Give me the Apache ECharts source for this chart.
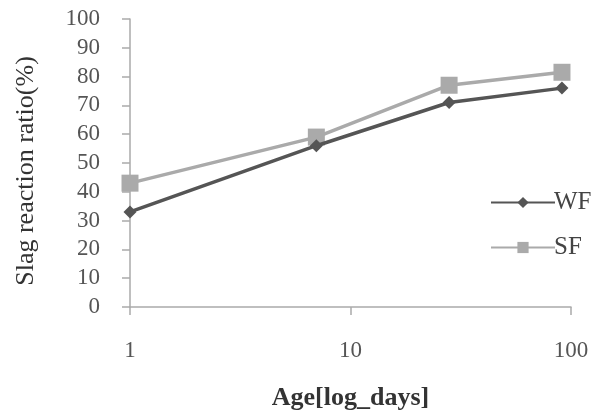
<!DOCTYPE html>
<html><head><meta charset="utf-8">
<script src="https://cdn.jsdelivr.net/npm/echarts@6/dist/echarts.min.js"></script>
<style>html,body{margin:0;padding:0;background:#fff}#c{width:593px;height:414px}</style>
</head><body><div id="c"></div>
<script>
const ages = [1, 7, 28, 91];
const wfValues = [33, 56, 71, 76];
const sfValues = [43, 59, 77, 81.5];
const seriesNames = ['WF', 'SF'];
const xTitle = 'Age[log_days]';
const yTitle = 'Slag reaction ratio(%)';

const font = '"Liberation Serif", "DejaVu Serif", serif';
const chart = echarts.init(document.getElementById('c'));
chart.setOption({
  backgroundColor: '#fff',
  animation: false,
  grid: {left: 130, right: 22, top: 19, bottom: 107, containLabel: false, outerBoundsMode: 'none'},
  legend: {
    orient: 'vertical', left: 485, top: 185,
    itemWidth: 64, itemHeight: 14, itemGap: 20,
    textStyle: {fontFamily: font, fontSize: 25, lineHeight: 25, color: '#444', padding: [0,0,0,-6]},
    data: seriesNames
  },
  xAxis: {
    type: 'log', logBase: 10, min: 1, max: 100,
    name: xTitle, nameLocation: 'middle', nameGap: 78,
    nameTextStyle: {fontFamily: font, fontSize: 26, fontWeight: 'bold', color: '#333'},
    axisLine: {lineStyle: {color: '#aaa', width: 1.5}},
    axisTick: {show: true, length: 8, lineStyle: {color: '#aaa', width: 1.5}},
    axisLabel: {fontFamily: font, fontSize: 23, color: '#555', margin: 32},
    splitLine: {show: false}, minorTick: {show: false}
  },
  yAxis: {
    type: 'value', min: 0, max: 100, interval: 10,
    name: yTitle, nameLocation: 'middle', nameGap: 91, nameRotate: 90,
    nameTextStyle: {fontFamily: font, fontSize: 26, color: '#333', padding: [0, 16, 0, 0]},
    axisLine: {show: true, lineStyle: {color: '#aaa', width: 1.5}},
    axisTick: {show: true, length: 8, lineStyle: {color: '#aaa', width: 1.5}},
    axisLabel: {fontFamily: font, fontSize: 23, color: '#555', margin: 30},
    splitLine: {show: false}
  },
  series: [
    {name: seriesNames[0], type: 'line', data: ages.map((a,i)=>[a, wfValues[i]]),
     symbol: 'diamond', symbolSize: 13, z: 3,
     lineStyle: {color: '#555', width: 3.5}, itemStyle: {color: '#555'}},
    {name: seriesNames[1], type: 'line', data: ages.map((a,i)=>[a, sfValues[i]]),
     symbol: 'rect', symbolSize: 17, z: 2,
     lineStyle: {color: '#aaa', width: 3.5}, itemStyle: {color: '#aaa'}}
  ]
});
</script></body></html>
